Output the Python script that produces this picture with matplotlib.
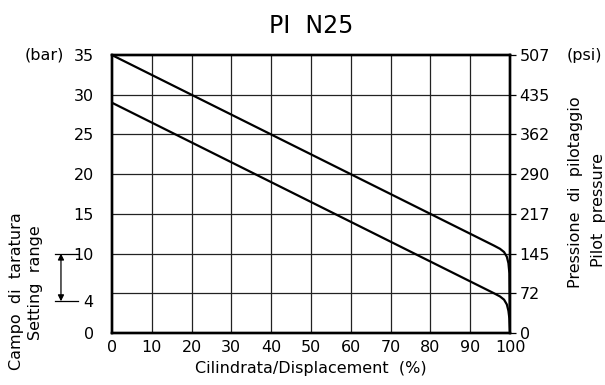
import matplotlib
matplotlib.use("Agg")
import matplotlib.pyplot as plt
import matplotlib.transforms as mtransforms

plt.rcParams['font.family'] = ['DejaVu Sans']

# displacement (%) vs pilot pressure (bar), two limit curves
disp_upper = [0, 96, 97.5, 98.5, 99.2, 99.6, 99.85, 100]
bar_upper = [35, 11, 10.6, 10.2, 9.6, 8.8, 7.5, 0]
disp_lower = [0, 96, 97.5, 98.5, 99.2, 99.6, 99.85, 100]
bar_lower = [29, 5, 4.6, 4.2, 3.6, 2.8, 1.8, 0]

x_ticks = [0, 10, 20, 30, 40, 50, 60, 70, 80, 90, 100]
bar_ticks = [0, 4, 10, 15, 20, 25, 30, 35]
grid_bar = [0, 5, 10, 15, 20, 25, 30, 35]
psi_labels = ['0', '72', '145', '217', '290', '362', '435', '507']
setting_range = [4, 10]

fs = 11.5

fig = plt.figure(figsize=(6.05, 3.85), dpi=100)
ax = fig.add_axes([0.185, 0.135, 0.658, 0.722])

for x in x_ticks[1:-1]:
    ax.axvline(x, color='#222222', lw=0.9, zorder=1)
for y in grid_bar[1:-1]:
    ax.axhline(y, color='#222222', lw=0.9, zorder=1)

ax.plot(disp_upper, bar_upper, color='black', lw=1.6, zorder=3)
ax.plot(disp_lower, bar_lower, color='black', lw=1.6, zorder=3)

ax.set_xlim(0, 100)
ax.set_ylim(0, 35)
ax.set_xticks(x_ticks)
ax.set_yticks(bar_ticks)
ax.set_yticks([10, 15, 20, 25, 30], minor=True)
ax.tick_params(axis='x', length=0, pad=5, labelsize=fs)
ax.tick_params(axis='y', which='major', length=0, pad=13, labelsize=fs)
ax.tick_params(axis='y', which='minor', length=7, width=0.9, direction='out')
for s in ax.spines.values():
    s.set_linewidth(1.7)

ax2 = ax.twinx()
ax2.set_ylim(0, 35)
ax2.set_yticks(grid_bar)
ax2.set_yticklabels(psi_labels)
ax2.tick_params(axis='y', length=4, width=0.9, pad=3, labelsize=fs)
for s in ax2.spines.values():
    s.set_linewidth(1.7)

ax.set_title('PI  N25', fontsize=17, pad=16)
ax.set_xlabel('Cilindrata/Displacement  (%)', fontsize=fs, labelpad=4)

# units
fig.text(0.04, 0.857, '(bar)', fontsize=fs, va='center', ha='left')
fig.text(0.937, 0.857, '(psi)', fontsize=fs, va='center', ha='left')

# axis titles
fig.text(0.028, 0.245, 'Campo  di  taratura', rotation=90, fontsize=fs,
         ha='center', va='center')
fig.text(0.058, 0.265, 'Setting  range', rotation=90, fontsize=fs,
         ha='center', va='center')
fig.text(0.951, 0.5, 'Pressione  di  pilotaggio', rotation=90, fontsize=fs,
         ha='center', va='center')
fig.text(0.99, 0.455, 'Pilot  pressure', rotation=90, fontsize=fs,
         ha='center', va='center')

# setting range marker
trans = mtransforms.blended_transform_factory(ax.transAxes, ax.transData)
for y in setting_range:
    ax.plot([-0.143, -0.085], [y, y], color='black', lw=0.9,
            transform=trans, clip_on=False)
ax.annotate('', xy=(-0.128, setting_range[0]), xytext=(-0.128, setting_range[1]),
            xycoords=trans, textcoords=trans,
            arrowprops=dict(arrowstyle='<|-|>', color='black', lw=0.9,
                            mutation_scale=9, shrinkA=0, shrinkB=0))

fig.savefig('out.png', dpi=100)
